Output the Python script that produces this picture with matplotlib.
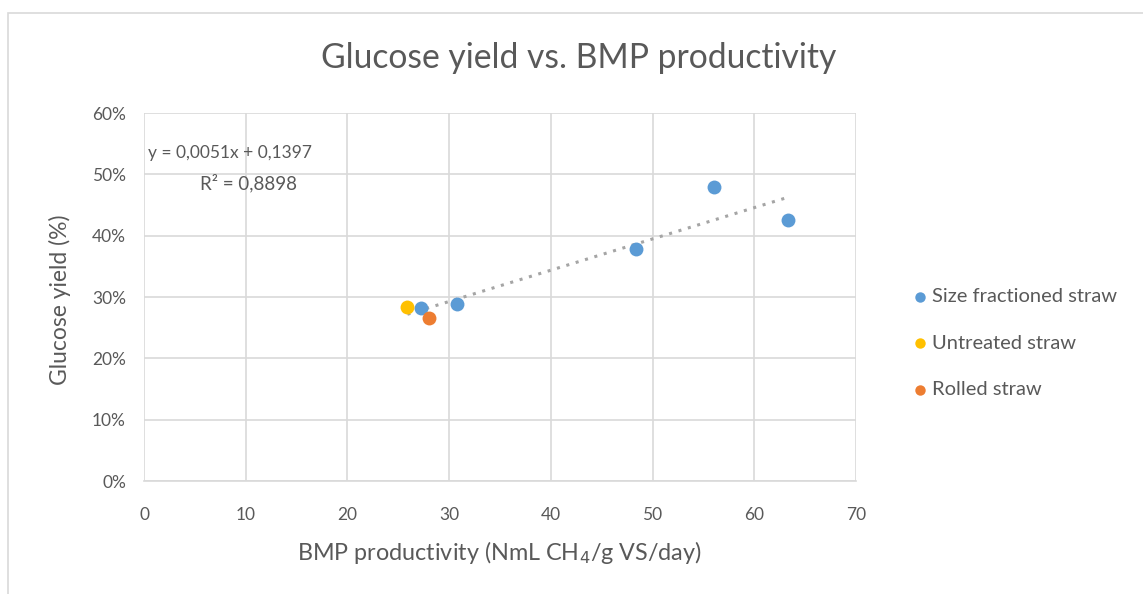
import matplotlib
matplotlib.use("Agg")
import matplotlib.pyplot as plt
from matplotlib.patches import Rectangle
from matplotlib.ticker import FuncFormatter, MultipleLocator
import numpy as np

plt.rcParams['font.family'] = ['Lato', 'DejaVu Sans']

# Data
size_x = [27.2, 30.8, 48.4, 56.0, 63.3]
size_y = [0.282, 0.289, 0.378, 0.480, 0.426]
untreated_x = [25.9]
untreated_y = [0.284]
rolled_x = [28.0]
rolled_y = [0.265]
trend_slope = 0.0051
trend_intercept = 0.1397
trend_range = [25.9, 63.3]
series_labels = ["Size fractioned straw", "Untreated straw", "Rolled straw"]
series_colors = ["#5B9BD5", "#FFC000", "#ED7D31"]

W, H = 1143, 594
fig = plt.figure(figsize=(W/100, H/100), dpi=100)
ax = fig.add_axes([144/W, (H-481)/H, (856-144)/W, (481-113)/H])

# chart border
fig.patches.append(Rectangle((8/W, -0.05), 1.2, 1 - 13/H + 0.05,
                             transform=fig.transFigure, fill=False,
                             edgecolor="#d9d9d9", linewidth=1.2, zorder=0))

ax.scatter(size_x, size_y, s=100, color=series_colors[0], label=series_labels[0], zorder=3, linewidths=0)
ax.scatter(untreated_x, untreated_y, s=100, color=series_colors[1], label=series_labels[1], zorder=3, linewidths=0)
ax.scatter(rolled_x, rolled_y, s=100, color=series_colors[2], label=series_labels[2], zorder=4, linewidths=0)

tx = np.array(trend_range)
ax.plot(tx, trend_slope * tx + trend_intercept, linestyle=(0, (1, 2.2)), color="#A5A5A5",
        linewidth=2.2, zorder=2)

ax.set_xlim(0, 70)
ax.set_ylim(0, 0.6)
ax.xaxis.set_major_locator(MultipleLocator(10))
ax.yaxis.set_major_locator(MultipleLocator(0.1))
ax.yaxis.set_major_formatter(FuncFormatter(lambda v, p: f"{v*100:.0f}%"))
ax.grid(True, color="#d9d9d9", linewidth=1.2, zorder=0)
ax.set_axisbelow(True)
for s in ["top", "right", "left"]:
    ax.spines[s].set_visible(False)
ax.spines["bottom"].set_color("#d9d9d9")
ax.spines["bottom"].set_linewidth(1.2)
ax.tick_params(length=0, labelsize=12.5, colors="#595959")
ax.tick_params(axis="x", pad=19)
ax.tick_params(axis="y", pad=13)

fig.text(579/W, 1 - 58/H, "Glucose yield vs. BMP productivity", fontsize=24.2,
         color="#595959", ha="center", va="center")
fig.text(499/W, 1 - 553/H, "BMP productivity (NmL CH$_4$/g VS/day)", fontsize=16.8,
         color="#595959", ha="center", va="center")
fig.text(60/W, 1 - 300/H, "Glucose yield (%)", fontsize=16.5, color="#595959",
         ha="center", va="center", rotation=90)

fig.text(148/W, 1 - 153/H, "y = 0,0051x + 0,1397", fontsize=12.5, color="#595959",
         ha="left", va="center")
fig.text(248/W, 1 - 183/H, "R² = 0,8898", fontsize=13.5, color="#595959",
         ha="center", va="center")

ax.legend(loc="center left", bbox_to_anchor=((910-144)/712, (481-343)/368),
          frameon=False, fontsize=14.5, labelcolor="#595959", handlelength=1.0,
          handletextpad=0.1, labelspacing=1.45, markerscale=0.75,
          borderaxespad=0, borderpad=0)

fig.savefig("out.png", dpi=100)
